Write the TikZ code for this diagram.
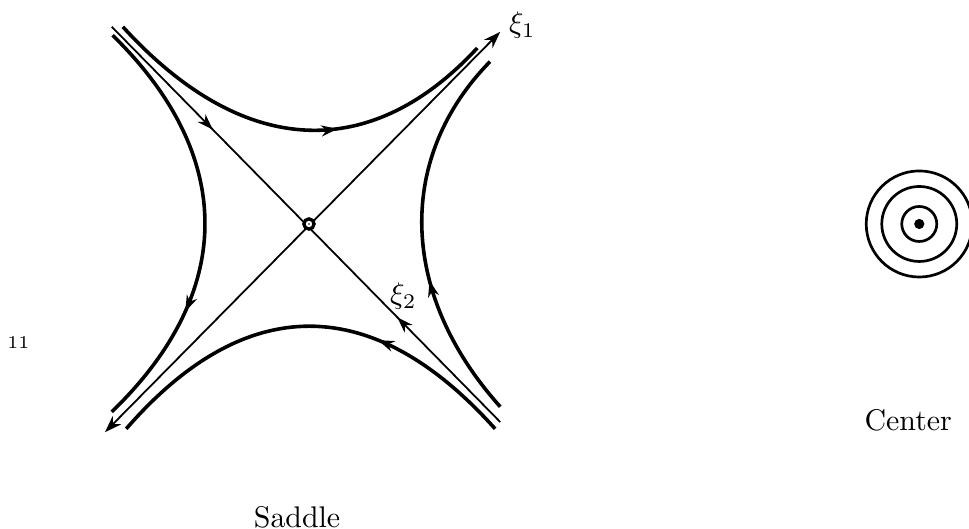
\documentclass[tikz,border=0pt]{standalone}
\usetikzlibrary{arrows.meta,decorations.markings}

\begin{document}
\begin{tikzpicture}[
  >={Stealth[length=2.0mm,width=1.4mm]},
  orbit/.style={line width=1.2pt},
  axis/.style={line width=0.6pt},
  fwd/.style={postaction={decorate,decoration={markings,
    mark=at position #1 with {\arrow{Stealth[length=1.9mm,width=1.3mm]}}}}},
  bwd/.style={postaction={decorate,decoration={markings,
    mark=at position #1 with {\arrowreversed{Stealth[length=1.9mm,width=1.3mm]}}}}},
  ring/.style={circle,draw,line width=0.9pt,inner sep=0pt},
  label/.style={font=\normalsize,inner sep=1pt}
]
\useasboundingbox (-3.635,-3.588) rectangle (7.765,2.635);

% Saddle: separatrices
\coordinate (xa) at (-2.40,-2.45);
\coordinate (xb) at (2.25,2.26);
\coordinate (ya) at (-2.32,2.32);
\coordinate (yb) at (2.25,-2.33);
\draw[axis,<->] (xa) -- (xb);
\draw[axis,fwd=0.26,bwd=0.735] (ya) -- (yb);

% Saddle: orbits
\coordinate (topL) at (-2.19,2.32);
\coordinate (topR) at (1.98,2.07);
\coordinate (leftT) at (-2.31,2.22);
\coordinate (leftB) at (-2.32,-2.21);
\coordinate (rightB) at (2.25,-2.15);
\coordinate (rightT) at (2.13,1.91);
\coordinate (botR) at (2.19,-2.41);
\coordinate (botL) at (-2.15,-2.41);
\draw[orbit,fwd=0.6] (topL) .. controls (-0.75,0.74) and (0.75,0.74) .. (topR);
\draw[orbit,fwd=0.71] (leftT) .. controls (-0.86,0.8) and (-0.86,-0.8) .. (leftB);
\draw[orbit,fwd=0.38] (rightB) .. controls (1.04,-0.8) and (1.04,0.8) .. (rightT);
\draw[orbit,fwd=0.34] (botR) .. controls (0.75,-0.8) and (-0.75,-0.8) .. (botL);

% Saddle point
\node[circle,draw,fill=white,line width=1.1pt,inner sep=0pt,minimum size=0.12cm] (sp) at (0,0) {};
\node[circle,fill,inner sep=0pt,minimum size=0.6pt] (spdot) at (sp.center) {};

% Labels
\node[label] (xi1) at (2.51,2.34) {$\xi_1$};
\node[label] (xi2) at (1.11,-0.85) {$\xi_2$};
\node[label] (saddle) at (-0.14,-3.45) {Saddle};
\node[font=\fontsize{6}{7}\selectfont] (num) at (-3.42,-1.39) {11};

% Center
\node[ring,minimum size=1.248cm] (outer) at (7.18,0) {};
\node[ring,minimum size=0.882cm] (middle) at (outer.center) {};
\node[ring,minimum size=0.412cm] (inner) at (outer.center) {};
\node[circle,fill,inner sep=0pt,minimum size=0.12cm] (core) at (outer.center) {};
\node[label] (center) at (7.05,-2.31) {Center};

\end{tikzpicture}
\end{document}
